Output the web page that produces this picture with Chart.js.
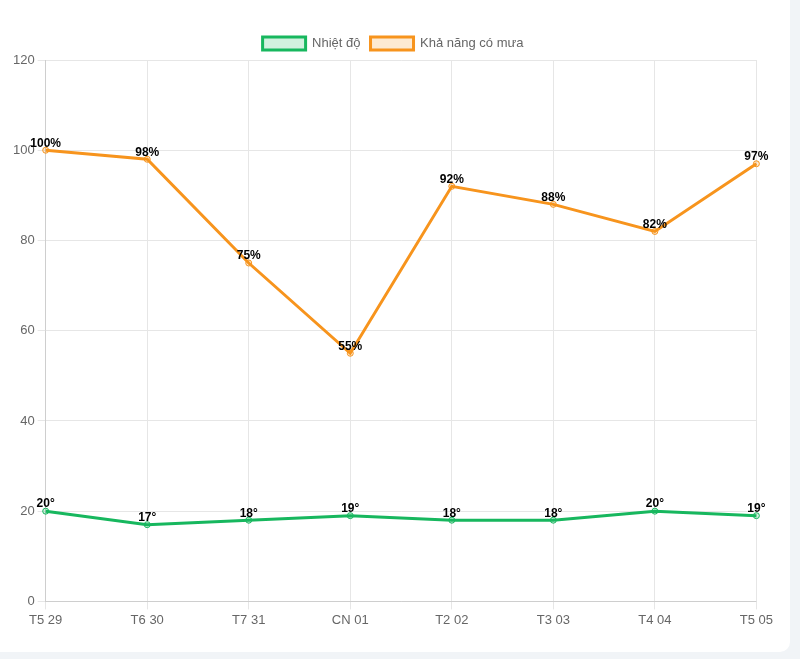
<!DOCTYPE html>
<html><head><meta charset="utf-8">
<script src="https://cdn.jsdelivr.net/npm/chart.js@4"></script>
<style>
html,body{margin:0;padding:0;background:#f1f4f7;width:800px;height:659px;overflow:hidden;font-family:"Liberation Sans",Arial,sans-serif}
#card{position:absolute;left:0;top:0;width:790px;height:652px;background:#fff;border-bottom-right-radius:10px}
#wrap{position:absolute;left:10px;top:27px;width:766px;height:604px}
</style></head><body>
<div id="card"><div id="wrap"><canvas id="c"></canvas></div></div>
<script>
const labels = ["T5 29","T6 30","T7 31","CN 01","T2 02","T3 03","T4 04","T5 05"];
const temperature = [20,17,18,19,18,18,20,19];
const rainChance = [100,98,75,55,92,88,82,97];
const yTicks = [0,20,40,60,80,100,120];

const valueLabels = {
  id:'valueLabels',
  afterDatasetsDraw(chart){
    const ctx = chart.ctx;
    ctx.save();
    ctx.font = 'bold 12px "Liberation Sans", Arial, sans-serif';
    ctx.fillStyle = '#000';
    ctx.textAlign = 'center';
    ctx.textBaseline = 'bottom';
    chart.data.datasets.forEach((ds,i)=>{
      const meta = chart.getDatasetMeta(i);
      meta.data.forEach((pt,j)=>{
        ctx.fillText(ds.data[j] + ds.suffix, pt.x, pt.y - 1);
      });
    });
    ctx.restore();
  }
};

Chart.defaults.font.family = '"Liberation Sans", Arial, sans-serif';
Chart.defaults.font.size = 13;
Chart.defaults.color = '#666';

new Chart(document.getElementById('c'), {
  type:'line',
  data:{
    labels: labels,
    datasets:[
      {label:'Nhiệt độ', data: temperature, suffix:'°', borderColor:'#17b75e', backgroundColor:'rgba(23,183,94,0.2)', borderWidth:3, pointRadius:3, pointBorderWidth:1, tension:0, fill:false},
      {label:'Khả năng có mưa', data: rainChance, suffix:'%', borderColor:'#f7941d', backgroundColor:'rgba(247,148,29,0.2)', borderWidth:3, pointRadius:3, pointBorderWidth:1, tension:0, fill:false}
    ]
  },
  options:{
    responsive:true, maintainAspectRatio:false, animation:false,
    plugins:{legend:{labels:{boxWidth:43}}, tooltip:{enabled:false}},
    scales:{
      y:{min:0,max:120, afterBuildTicks(ax){ax.ticks = yTicks.map(v=>({value:v}));}, grid:{color:'#e6e6e6'}},
      x:{grid:{color:'#e6e6e6'}}
    }
  },
  plugins:[valueLabels]
});
</script>
</body></html>
